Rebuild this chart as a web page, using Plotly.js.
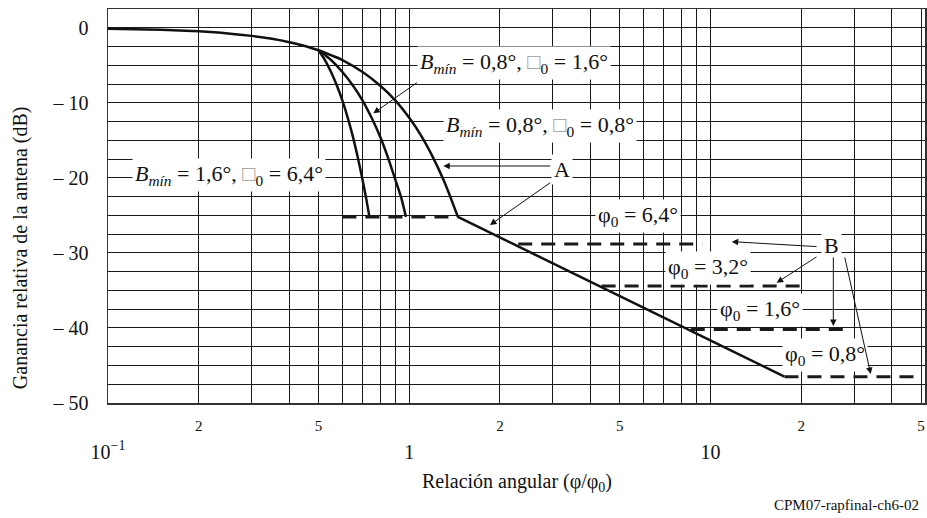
<!DOCTYPE html>
<html>
<head>
<meta charset="utf-8">
<script src="https://cdn.plot.ly/plotly-3.0.1.min.js"></script>
<style>
body{margin:0;background:#fff;}
#graph{width:927px;height:518px;}
</style>
</head>
<body>
<div id="graph"></div>
<script>
// values
let mainX = [0.1,0.15,0.2,0.25,0.3,0.35,0.4,0.45,0.5];
let mainY = [-0.12,-0.27,-0.48,-0.75,-1.08,-1.47,-1.92,-2.43,-3.0];

// B_min = 0,8 deg, phi0 = 0,8 deg
let c08X = [0.5,0.6,0.7,0.8,0.9,1.0,1.1,1.2,1.3,1.38,1.45];
let c08Y = [-3,-4.3,-5.9,-7.7,-9.7,-12,-14.5,-17.3,-20.3,-22.9,-25.2];

// B_min = 0,8 deg, phi0 = 1,6 deg
let c16X = [0.5,0.55,0.6,0.65,0.7,0.75,0.8,0.85,0.9,0.94,0.975];
let c16Y = [-3,-4.3,-5.9,-7.7,-9.7,-12,-14.5,-17.3,-20.3,-22.6,-25.2];

// B_min = 1,6 deg, phi0 = 6,4 deg
let c64X = [0.5,0.525,0.55,0.575,0.6,0.625,0.65,0.675,0.7,0.72,0.7375];
let c64Y = [-3,-4.3,-5.9,-7.7,-9.7,-12,-14.5,-17.3,-20.3,-22.8,-25.2];

// curve A, far side
let slopeX = [1.45,17.6];
let slopeY = [-25.2,-46.5];

// dashed floors
let floorMainX = [0.6,1.45];   let floorMainY = [-25.2,-25.2];
let floor64X = [2.3,9.4];      let floor64Y = [-28.8,-28.8];
let floor32X = [4.35,20.3];    let floor32Y = [-34.4,-34.4];
let floor16X = [8.6,29.2];     let floor16Y = [-40.2,-40.2];
let floor08X = [17.6,50];      let floor08Y = [-46.5,-46.5];

// ticks
let xGrid = [0.2,0.3,0.4,0.5,0.6,0.7,0.8,0.9,2,3,4,5,6,7,8,9,20,30,40,50];
let xMajorVals = [0.1,1,10];
let xMajorText = ['10<sup>−1</sup>','1','10'];
let xMinorVals = [0.2,0.5,2,5,20,50];
let xMinorText = ['2','5','2','5','2','5'];
let yMajorVals = [-50,-40,-30,-20,-10,0];
let yMajorText = ['– 50','– 40','– 30','– 20','– 10','0'];

const FONT = '"Liberation Serif", "Times New Roman", serif';
const solid = {color:'#111',width:2.5};
const dashed = {color:'#1a1a1a',width:3,dash:'14px,9px'};

function tr(x,y,line,shape,axis){
    return {x:x,y:y,mode:'lines',line:Object.assign({},line,shape?{shape:'spline',smoothing:0.6}:{}),
            xaxis:axis||'x',yaxis:'y',hoverinfo:'skip'};
}

let traces = [
    tr(floorMainX,floorMainY,dashed,false),
    tr(floor64X,floor64Y,dashed,false),
    tr(floor32X,floor32Y,dashed,false),
    tr(floor16X,floor16Y,dashed,false),
    tr(floor08X,floor08Y,dashed,false,'x2'),
    tr(mainX,mainY,solid,true,'x3'),
    tr(c08X,c08Y,solid,true),
    tr(c16X,c16Y,solid,true),
    tr(c64X,c64Y,solid,true),
    tr(slopeX,slopeY,solid,false)
];

const lbl = 22;
const box = '<span style="color:#9a9a9a">□</span>';
function note(text,x,y,xanchor){
    return {text:text,x:x,y:y,xref:'x',yref:'y',xanchor:xanchor||'left',yanchor:'middle',
            showarrow:false,bgcolor:'#fff',borderpad:2,font:{family:FONT,size:lbl,color:'#111'}};
}
function arrow(tx,ty,ax,ay){
    return {text:'',x:tx,y:ty,ax:ax,ay:ay,xref:'x',yref:'y',axref:'x',ayref:'y',
            showarrow:true,arrowhead:2,arrowsize:1.3,arrowwidth:1,arrowcolor:'#111',standoff:0,startstandoff:0};
}

let annotations = [
    note('<i>B</i><sub><i>mín</i></sub> = 0,8°, '+box+'<sub>0</sub> = 1,6°',0.0257,-4.7),
    note('<i>B</i><sub><i>mín</i></sub> = 0,8°, '+box+'<sub>0</sub> = 0,8°',0.112,-13.1),
    note('<i>B</i><sub><i>mín</i></sub> = 1,6°, '+box+'<sub>0</sub> = 6,4°',-0.922,-19.6),
    note('A',0.507,-18.95,'center'),
    note('B',1.401,-28.95,'center'),
    note('φ<sub>0</sub> = 6,4°',0.617,-25.1),
    note('φ<sub>0</sub> = 3,2°',0.849,-32.0),
    note('φ<sub>0</sub> = 1,6°',1.0216,-37.6),
    note('φ<sub>0</sub> = 0,8°',1.237,-43.6),
    arrow(-0.1193,-11.4,0.0301,-7.19),
    arrow(0.1131,-18.42,0.4729,-18.42),
    arrow(0.2680,-26.28,0.4729,-20.51),
    arrow(1.0704,-28.5,1.3568,-29.17),
    arrow(1.2197,-33.97,1.3568,-30.41),
    arrow(1.4077,-39.74,1.4077,-30.41),
    arrow(1.5317,-46.13,1.4447,-30.41),
    {text:'Ganancia relativa de la antena (dB)',xref:'paper',yref:'paper',x:-0.1077,y:0.393,
     textangle:-90,showarrow:false,xanchor:'center',yanchor:'middle',font:{family:FONT,size:20,color:'#111'}},
    {text:'Relación angular (φ/φ<sub>0</sub>)',xref:'paper',yref:'paper',x:0.5,y:-0.203,
     showarrow:false,xanchor:'center',yanchor:'middle',font:{family:FONT,size:20,color:'#111'}},
    {text:'CPM07-rapfinal-ch6-02',xref:'paper',yref:'paper',x:0.995,y:-0.259,
     showarrow:false,xanchor:'right',yanchor:'middle',font:{family:FONT,size:15,color:'#111'}}
];

const GRID = '#1a1a1a';
let layout = {
    width:927,height:518,
    margin:{l:108,r:2,t:9,b:115},
    paper_bgcolor:'#fff',plot_bgcolor:'#fff',
    showlegend:false,
    font:{family:FONT,color:'#111'},
    xaxis:{
        type:'log',range:[-1,1.712],
        tickvals:xMajorVals,ticktext:xMajorText,
        tickfont:{size:20},ticks:'',ticklabelstandoff:30,
        showgrid:true,gridcolor:GRID,gridwidth:1,
        showline:true,mirror:true,linecolor:'#333',linewidth:1.5,zeroline:false
    },
    xaxis2:{
        type:'log',range:[-1,1.712],overlaying:'x',anchor:'y',side:'bottom',
        tickvals:xMinorVals,ticktext:xMinorText,tickfont:{size:15},ticks:'',ticklabelstandoff:12,
        showgrid:false,showline:false,zeroline:false
    },
    xaxis3:{
        type:'log',range:[-1,1.712],overlaying:'x',anchor:'y',side:'bottom',
        tickvals:xGrid,showticklabels:false,ticks:'',
        showgrid:true,gridcolor:GRID,gridwidth:1,showline:false,zeroline:false
    },
    yaxis:{
        range:[-50,2.5],
        tickvals:yMajorVals,ticktext:yMajorText,
        tickfont:{size:20},ticks:'',ticklabelstandoff:14,
        showgrid:true,gridcolor:GRID,gridwidth:1,
        minor:{dtick:2.5,tick0:0,showgrid:true,gridcolor:GRID,gridwidth:1,ticks:''},
        showline:true,mirror:true,linecolor:'#333',linewidth:1.5,zeroline:false
    },
    annotations:annotations
};

Plotly.newPlot('graph',traces,layout,{staticPlot:true,displayModeBar:false});
</script>
</body>
</html>
